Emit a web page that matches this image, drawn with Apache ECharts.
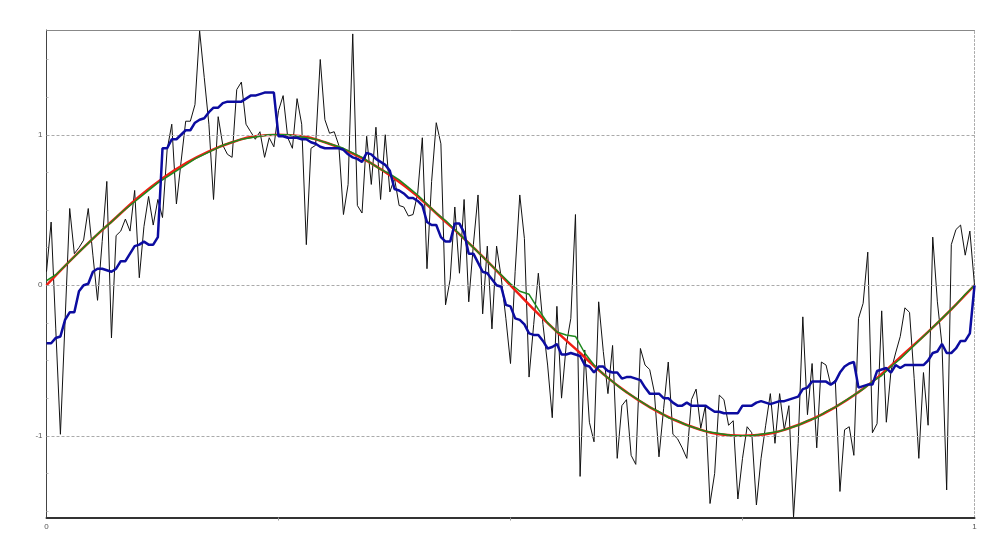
<!DOCTYPE html>
<html>
<head>
<meta charset="utf-8">
<title>Signal filtering</title>
<script src="https://cdn.jsdelivr.net/npm/echarts@6/dist/echarts.min.js"></script>
<style>
  html, body { margin: 0; padding: 0; background: #ffffff; }
  #chart { width: 991px; height: 547px; }
</style>
</head>
<body>
<div id="chart"></div>
<script>
// Noisy measurements, 201 evenly spaced samples over [0, 1]
const noisy = [
  0.09, 0.42, -0.29, -0.99, -0.24, 0.51, 0.21, 0.25, 0.30, 0.51, 0.20, -0.10, 0.29, 0.69, -0.35, 0.33, 0.36, 0.44, 0.36, 0.63, 0.05, 0.39, 0.59, 0.40, 0.57, 0.45, 0.90, 1.07, 0.54,
  0.82, 1.09, 1.09, 1.20, 1.69, 1.38, 1.07, 0.57, 1.12, 0.93, 0.87, 0.85, 1.30, 1.35, 1.07, 1.02, 0.97, 1.02, 0.85, 0.98, 0.92, 1.16, 1.26, 0.98, 0.91, 1.24, 1.07, 0.27, 0.91,
  0.93, 1.50, 1.10, 1.01, 1.02, 0.93, 0.47, 0.67, 1.67, 0.53, 0.48, 0.99, 0.67, 1.05, 0.57, 1.00, 0.62, 0.71, 0.53, 0.52, 0.46, 0.47, 0.61, 0.98, 0.11, 0.69, 1.08, 0.94, -0.13,
  0.04, 0.52, 0.08, 0.57, -0.11, 0.27, 0.60, -0.19, 0.26, -0.29, 0.26, 0.05, -0.22, -0.52, 0.09, 0.60, 0.31, -0.61, -0.26, 0.08, -0.26, -0.53, -0.88, -0.14, -0.75, -0.40, -0.22, 0.47, -1.27,
  -0.43, -0.91, -1.04, -0.11, -0.44, -0.72, -0.40, -1.15, -0.80, -0.76, -1.13, -1.19, -0.42, -0.53, -0.56, -0.71, -1.14, -0.82, -0.51, -0.99, -1.02, -1.08, -1.15, -0.76, -0.69, -0.95, -0.80, -1.45,
  -1.25, -0.73, -0.76, -0.93, -0.90, -1.42, -1.15, -0.94, -0.98, -1.46, -1.15, -0.93, -0.72, -1.05, -0.72, -0.96, -0.80, -1.54, -1.05, -0.21, -0.86, -0.52, -1.08, -0.51, -0.53, -0.66, -0.63, -1.37, -0.96,
  -0.94, -1.13, -0.22, -0.12, 0.22, -0.98, -0.92, -0.17, -0.91, -0.57, -0.45, -0.34, -0.15, -0.18, -0.62, -1.15, -0.58, -0.93, 0.32, -0.11, -0.40, -1.36, 0.27, 0.37, 0.40, 0.20, 0.36, 0.00
];

// Underlying clean signal, 41 samples over [0, 1]
const clean = [
  0.00, 0.16, 0.31, 0.45, 0.59, 0.71, 0.81, 0.89, 0.95, 0.99, 1.00, 0.99, 0.95, 0.89, 0.81, 0.71, 0.59, 0.45, 0.31, 0.16,
  0.00, -0.16, -0.31, -0.45, -0.59, -0.71, -0.81, -0.89, -0.95, -0.99, -1.00, -0.99, -0.95, -0.89, -0.81, -0.71, -0.59, -0.45, -0.31, -0.16,
  0.00
];

// Smoothed estimate, 101 samples over [0, 1]
const smoothed = [
  0.03, 0.07, 0.13, 0.19, 0.25, 0.31, 0.37, 0.42, 0.48, 0.53, 0.58, 0.63, 0.68, 0.72, 0.76, 0.80, 0.84, 0.87, 0.90, 0.93,
  0.95, 0.97, 0.98, 0.99, 1.00, 1.00, 1.00, 0.99, 0.98, 0.97, 0.95, 0.93, 0.91, 0.88, 0.85, 0.81, 0.77, 0.74, 0.70, 0.65,
  0.60, 0.54, 0.48, 0.43, 0.37, 0.31, 0.25, 0.19, 0.13, 0.07, 0.01, -0.04, -0.06, -0.16, -0.25, -0.31, -0.33, -0.34, -0.45, -0.53,
  -0.59, -0.64, -0.69, -0.73, -0.77, -0.81, -0.84, -0.88, -0.90, -0.93, -0.95, -0.97, -0.98, -0.99, -1.00, -1.00, -1.00, -0.99, -0.98, -0.97,
  -0.95, -0.93, -0.90, -0.88, -0.84, -0.81, -0.77, -0.73, -0.69, -0.64, -0.60, -0.54, -0.49, -0.43, -0.37, -0.31, -0.25, -0.19, -0.13, -0.06,
  0.00
];

// Lagging filter output, 201 samples over [0, 1]
const filtered = [
  -0.385, -0.385, -0.35, -0.34, -0.23, -0.18, -0.18, -0.04, 0.00, 0.01, 0.09, 0.11, 0.11, 0.10, 0.09, 0.11, 0.16, 0.16, 0.21, 0.26, 0.27, 0.29, 0.27, 0.27, 0.32, 0.91, 0.91, 0.97, 0.97,
  1.00, 1.03, 1.03, 1.08, 1.10, 1.11, 1.15, 1.18, 1.18, 1.21, 1.22, 1.22, 1.22, 1.22, 1.24, 1.26, 1.26, 1.27, 1.28, 1.28, 1.28, 0.99, 0.99, 0.98, 0.98, 0.98, 0.97, 0.97, 0.95,
  0.94, 0.92, 0.91, 0.91, 0.91, 0.91, 0.90, 0.87, 0.85, 0.84, 0.82, 0.88, 0.87, 0.84, 0.82, 0.80, 0.76, 0.64, 0.63, 0.61, 0.58, 0.58, 0.56, 0.53, 0.42, 0.40, 0.40, 0.32, 0.29,
  0.29, 0.41, 0.41, 0.35, 0.21, 0.21, 0.15, 0.09, 0.08, 0.04, 0.00, -0.01, -0.13, -0.14, -0.22, -0.23, -0.26, -0.32, -0.33, -0.33, -0.37, -0.42, -0.41, -0.39, -0.46, -0.46, -0.45, -0.46, -0.47,
  -0.53, -0.54, -0.58, -0.54, -0.54, -0.57, -0.58, -0.58, -0.62, -0.61, -0.61, -0.62, -0.63, -0.68, -0.72, -0.72, -0.72, -0.75, -0.75, -0.78, -0.80, -0.80, -0.78, -0.80, -0.80, -0.80, -0.80, -0.82,
  -0.84, -0.84, -0.85, -0.85, -0.85, -0.85, -0.80, -0.80, -0.80, -0.78, -0.77, -0.78, -0.79, -0.78, -0.77, -0.77, -0.76, -0.75, -0.74, -0.69, -0.68, -0.64, -0.64, -0.64, -0.64, -0.66, -0.64, -0.58, -0.54,
  -0.52, -0.51, -0.68, -0.67, -0.66, -0.66, -0.57, -0.56, -0.55, -0.58, -0.53, -0.55, -0.53, -0.53, -0.53, -0.53, -0.53, -0.50, -0.45, -0.44, -0.39, -0.45, -0.45, -0.42, -0.37, -0.37, -0.32, 0.00
];

// Axis settings
const xRange = [0, 1];
const yRange = [-1.543, 1.696];
const xLabels = [0, 1];
const xMinorTicks = [0.25, 0.5, 0.75];
const yLabels = [-1, 0, 1];
const yMinorTicks = [-1.5, -1.25, -0.75, -0.5, -0.25, 0.25, 0.5, 0.75, 1.25, 1.5];

// Spread samples evenly across the x range
function toPoints(values) {
  const n = values.length - 1;
  return values.map((v, i) => [xRange[0] + (xRange[1] - xRange[0]) * i / n, v]);
}

const labelFont = { fontFamily: 'Liberation Sans, Arial, sans-serif', fontSize: 8, color: '#555' };

const chart = echarts.init(document.getElementById('chart'), null, { renderer: 'canvas' });
chart.setOption({
  animation: false,
  backgroundColor: '#ffffff',
  grid: { left: 46.5, right: 16.5, top: 30, bottom: 29.5, containLabel: false },
  xAxis: [
    {
      type: 'value', min: xRange[0], max: xRange[1], position: 'bottom',
      axisLine: { show: true, onZero: false, lineStyle: { color: '#333', width: 2 } },
      axisTick: { show: true, customValues: xMinorTicks, length: 3, lineStyle: { color: '#999' } },
      axisLabel: Object.assign({ customValues: xLabels, margin: 5 }, labelFont),
      splitLine: { show: false }
    },
    {
      type: 'value', min: xRange[0], max: xRange[1], position: 'top',
      axisLine: { show: true, onZero: false, lineStyle: { color: '#888', width: 1 } },
      axisTick: { show: false }, axisLabel: { show: false }, splitLine: { show: false }
    }
  ],
  yAxis: [
    {
      type: 'value', min: yRange[0], max: yRange[1], position: 'left',
      axisLine: { show: true, onZero: false, lineStyle: { color: '#444', width: 1 } },
      axisTick: { show: true, inside: true, customValues: yMinorTicks, length: 2, lineStyle: { color: '#bbb' } },
      axisLabel: Object.assign({ customValues: yLabels, margin: 4 }, labelFont),
      splitLine: { show: false }
    },
    {
      type: 'value', min: yRange[0], max: yRange[1], position: 'right',
      axisLine: { show: true, onZero: false, lineStyle: { color: '#aaa', width: 1, type: [2, 2] } },
      axisTick: { show: false }, axisLabel: { show: false }, splitLine: { show: false }
    }
  ],
  series: [
    {
      // horizontal reference lines at the labelled values
      type: 'line', data: [], silent: true, z: 1,
      markLine: {
        silent: true, symbol: 'none', label: { show: false },
        lineStyle: { color: '#aaa', width: 1, type: [3, 2] },
        data: yLabels.map(v => ({ yAxis: v }))
      }
    },
    {
      name: 'noisy', type: 'line', data: toPoints(noisy), showSymbol: false, z: 2,
      lineStyle: { color: '#111', width: 1 }
    },
    {
      name: 'clean', type: 'line', data: toPoints(clean), showSymbol: false, smooth: true, z: 3,
      lineStyle: { color: '#f01e14', width: 2.5 }
    },
    {
      name: 'smoothed', type: 'line', data: toPoints(smoothed), showSymbol: false, z: 4,
      lineStyle: { color: '#1e8a1e', width: 1.5 }
    },
    {
      name: 'filtered', type: 'line', data: toPoints(filtered), showSymbol: false, z: 5,
      lineStyle: { color: '#0c0ca0', width: 2.5 }
    }
  ]
});
</script>
</body>
</html>
